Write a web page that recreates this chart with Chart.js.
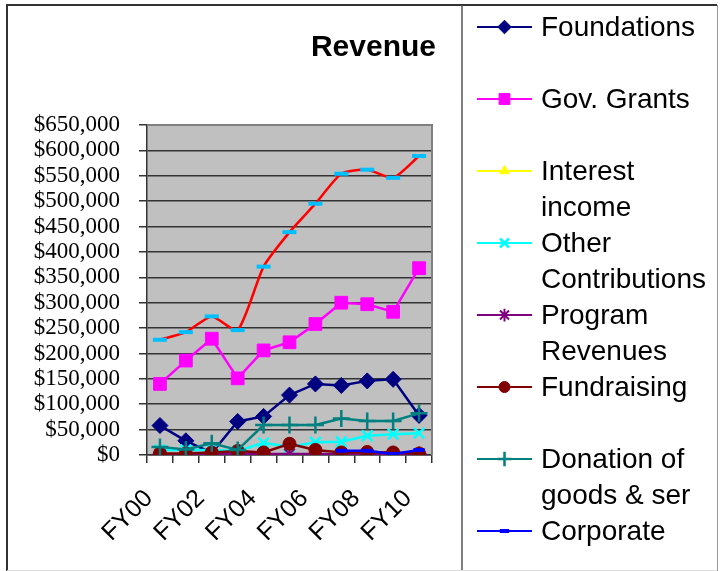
<!DOCTYPE html>
<html>
<head>
<meta charset="utf-8">
<title>Revenue</title>
<script src="https://cdn.jsdelivr.net/npm/chart.js@4/dist/chart.umd.min.js"></script>
<style>
  html, body { margin: 0; padding: 0; background: #fff; }
  #wrap { width: 722px; height: 571px; }
</style>
</head>
<body>
<div id="wrap"><canvas id="revenueChart" width="722" height="571"></canvas></div>
<script>
// Fiscal years on the x axis
const fiscalYears = ["FY00", "FY01", "FY02", "FY03", "FY04", "FY05", "FY06", "FY07", "FY08", "FY09", "FY10"];

// Revenue by source
const foundations = [58000, 28000, 4000, 66000, 76000, 118000, 140000, 137000, 146000, 149000, 78000];
const govGrants = [140000, 186000, 229000, 151000, 206000, 222000, 258000, 300000, 297000, 282000, 368000];
const interestIncome = [2000, 1500, 1000, 500, 500, 1000, 1000, 500, 500, 500, 500];
const otherContributions = [10000, 10000, 10000, 8000, 24000, 16000, 25000, 26000, 38000, 41000, 43000];
const programRevenues = [1000, 1000, 2000, 3000, 2000, 2000, 2000, 1500, 1500, 1000, 2000];
const fundraising = [3000, 3000, 5000, 8000, 5000, 22000, 10000, 5000, 6000, 5000, 3000];
const donationGoods = [16000, 11000, 23000, 10000, 59000, 59000, 59000, 72000, 67000, 67000, 82000];
const corporate = [null, null, null, null, null, null, null, 8500, 8500, 2000, 10000];
const totalRevenue = [227000, 242000, 273000, 246000, 371000, 439000, 495000, 554000, 562000, 546000, 589000];

// Y axis ticks
const yMin = 0;
const yMax = 650000;
const yStep = 50000;

function series(label, data, color, style, radius, extra) {
  return Object.assign({
    label: label,
    data: data,
    borderColor: color,
    backgroundColor: color,
    borderWidth: 2.5,
    pointStyle: style,
    pointRadius: radius,
    pointHoverRadius: radius,
    pointBorderColor: color,
    pointBackgroundColor: color,
    pointBorderWidth: 1,
    tension: 0,
    spanGaps: false,
  }, extra || {});
}

const datasets = [
  series("Foundations", foundations, "#000080", "rectRot", 8),
  series("Gov. Grants", govGrants, "#FF00FF", "rect", 9),
  series("Interest\nincome", interestIncome, "#FFFF00", "triangle", 6.5),
  series("Other\nContributions", otherContributions, "#00FFFF", "crossRot", 7.5, { pointBorderWidth: 2.5 }),
  series("Program\nRevenues", programRevenues, "#800080", "star", 7.5, { pointBorderWidth: 2 }),
  series("Fundraising", fundraising, "#800000", "circle", 6.5),
  series("Donation of\ngoods & ser", donationGoods, "#008080", "cross", 8.5, { pointBorderWidth: 2.5 }),
  series("Corporate", corporate, "#0000FF", "line", 5.5, { pointBorderWidth: 4 }),
  series("Total", totalRevenue, "#FF0000", "line", 7, {
    pointBorderColor: "#00BFFF", pointBackgroundColor: "#00BFFF", pointBorderWidth: 4, tension: 0.2,
  }),
];
// Excel paints later series on top
datasets.forEach((d, i) => { d.order = datasets.length - i; });

const plotFrame = {
  id: "plotFrame",
  beforeDraw(chart) {
    const { ctx, chartArea: a } = chart;
    ctx.save();
    ctx.fillStyle = "#C0C0C0";
    ctx.fillRect(a.left, a.top, a.right - a.left, a.bottom - a.top);
    ctx.restore();
  },
  afterDraw(chart) {
    const { ctx, chartArea: a } = chart;
    ctx.save();
    // plot area top / right edge
    ctx.strokeStyle = "#808080";
    ctx.lineWidth = 2;
    ctx.beginPath();
    ctx.moveTo(a.left, a.top);
    ctx.lineTo(a.right, a.top);
    ctx.lineTo(a.right, a.bottom);
    ctx.stroke();

    // outer frame and legend box
    ctx.strokeStyle = "#333";
    ctx.lineWidth = 2;
    ctx.beginPath();
    ctx.moveTo(7, 571);
    ctx.lineTo(7, 5);
    ctx.lineTo(717, 5);
    ctx.stroke();
    ctx.lineWidth = 1.5;
    ctx.strokeStyle = "#555";
    ctx.beginPath();
    ctx.moveTo(462, 5);
    ctx.lineTo(462, 571);
    ctx.stroke();
    ctx.lineWidth = 1;
    ctx.strokeStyle = "#999";
    ctx.beginPath();
    ctx.moveTo(717.5, 5);
    ctx.lineTo(717.5, 571);
    ctx.stroke();
    ctx.strokeStyle = "#ddd";
    ctx.beginPath();
    ctx.moveTo(7, 570.5);
    ctx.lineTo(717, 570.5);
    ctx.stroke();

    // title
    ctx.fillStyle = "#000";
    ctx.font = "bold 30px 'Liberation Sans', Arial, sans-serif";
    ctx.textAlign = "right";
    ctx.textBaseline = "middle";
    ctx.fillText("Revenue", 436, 48);
    ctx.restore();
  },
};

// Legend drawn by hand so that two-line entries wrap like the original
const sideLegend = {
  id: "sideLegend",
  afterDraw(chart) {
    const ctx = chart.ctx;
    ctx.save();
    ctx.font = "28px 'Liberation Sans', Arial, sans-serif";
    ctx.textAlign = "left";
    ctx.textBaseline = "middle";
    chart.data.datasets.forEach((ds, i) => {
      if (ds.label === "Total") return;
      const yc = 27 + 72 * i;
      ctx.strokeStyle = ds.borderColor;
      ctx.lineWidth = 2;
      ctx.beginPath();
      ctx.moveTo(477, yc);
      ctx.lineTo(532, yc);
      ctx.stroke();
      ctx.fillStyle = ds.pointBackgroundColor;
      ctx.strokeStyle = ds.pointBorderColor;
      ctx.lineWidth = ds.pointBorderWidth;
      Chart.helpers.drawPoint(ctx, {
        pointStyle: ds.pointStyle,
        radius: ds.pointRadius * 0.85,
        rotation: 0,
        borderWidth: ds.pointBorderWidth,
      }, 504.5, yc);
      ctx.fillStyle = "#000";
      ds.label.split("\n").forEach((line, j) => {
        ctx.fillText(line, 541, yc + 36 * j + 1);
      });
    });
    ctx.restore();
  },
};

new Chart(document.getElementById("revenueChart"), {
  type: "line",
  data: {
    labels: fiscalYears,
    datasets: datasets,
  },
  options: {
    responsive: false,
    animation: false,
    layout: {
      padding: { left: 0, right: 290, top: 125, bottom: 0 },
    },
    plugins: {
      legend: { display: false },
      title: { display: false },
      tooltip: { enabled: false },
    },
    scales: {
      x: {
        offset: true,
        grid: {
          offset: true,
          drawOnChartArea: false,
          drawTicks: true,
          tickLength: 8,
          color: "#333",
          lineWidth: 1.5,
        },
        border: { color: "#333", width: 1.5 },
        ticks: {
          autoSkip: false,
          minRotation: 45,
          maxRotation: 45,
          padding: 21,
          labelOffset: -11,
          color: "#000",
          font: { family: "'Liberation Sans', Arial, sans-serif", size: 25 },
          callback: function (value, index) {
            return index % 2 === 0 ? this.getLabelForValue(value) : "";
          },
        },
        afterFit: (scale) => { scale.height = 116; },
      },
      y: {
        min: yMin,
        max: yMax,
        grid: {
          color: "#333",
          lineWidth: 1.5,
          tickLength: 8,
          drawTicks: true,
        },
        border: { color: "#333", width: 1.5 },
        ticks: {
          autoSkip: false,
          stepSize: yStep,
          padding: 19,
          color: "#000",
          font: { family: "'Liberation Serif', 'Times New Roman', serif", size: 23 },
          callback: (v) => "$" + v.toLocaleString("en-US"),
        },
        afterFit: (scale) => { scale.width = 147; },
      },
    },
  },
  plugins: [plotFrame, sideLegend],
});
</script>
</body>
</html>
